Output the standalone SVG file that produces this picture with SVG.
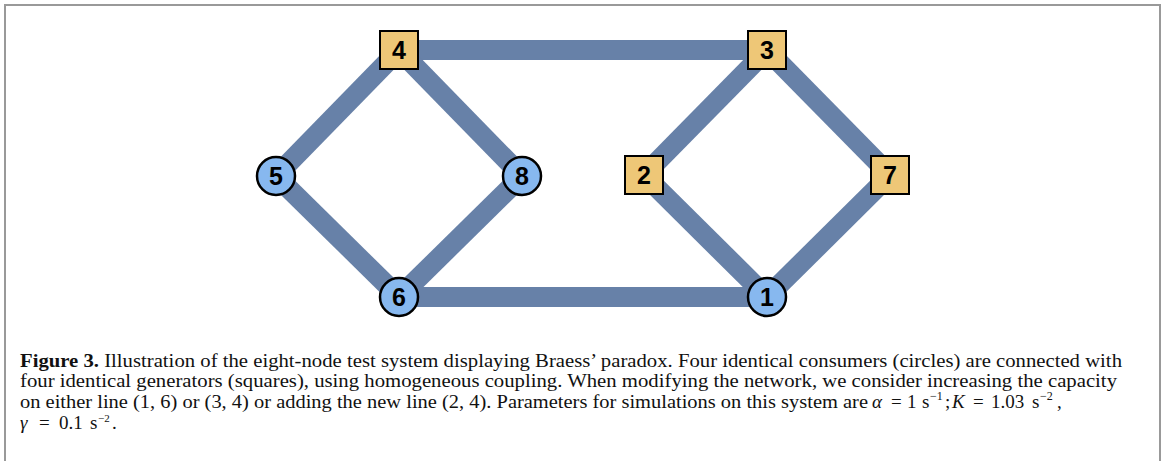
<svg xmlns="http://www.w3.org/2000/svg" width="1166" height="461" viewBox="0 0 1166 461">
<style>
.edge{stroke:#6781a8;stroke-width:20;fill:none;stroke-linecap:butt}
.sq{fill:#eec777;stroke:#000;stroke-width:2}
.ci{fill:#87b8ef;stroke:#000;stroke-width:2.5}
.lbl{font-family:"Liberation Sans",Arial,sans-serif;font-weight:bold;font-size:25px;fill:#000;text-anchor:middle}
.cap{font-family:"Liberation Serif","Times New Roman",serif;font-size:19px;fill:#111}
.b{font-weight:bold}
.i{font-style:italic}
.sup{font-size:12px}
.sup2{font-size:11px}
</style>
<rect x="0" y="0" width="1166" height="461" fill="#fff"/>
<rect x="5" y="5" width="1155" height="470" fill="none" stroke="#999" stroke-width="2"/>
<g id="connectors">
<line class="edge" x1="399" y1="50" x2="767" y2="50"/>
<line class="edge" x1="399" y1="50" x2="276" y2="176"/>
<line class="edge" x1="399" y1="50" x2="522" y2="176"/>
<line class="edge" x1="276" y1="176" x2="399" y2="297"/>
<line class="edge" x1="522" y1="176" x2="399" y2="297"/>
<line class="edge" x1="399" y1="297" x2="767" y2="297"/>
<line class="edge" x1="767" y1="50" x2="644" y2="175"/>
<line class="edge" x1="767" y1="50" x2="890" y2="175"/>
<line class="edge" x1="644" y1="175" x2="767" y2="297"/>
<line class="edge" x1="890" y1="175" x2="767" y2="297"/>
</g>
<g id="node4"><rect class="sq" x="380" y="31" width="38" height="38"/><text class="lbl" x="399" y="59">4</text></g>
<g id="node3"><rect class="sq" x="748" y="31" width="38" height="38"/><text class="lbl" x="767" y="59">3</text></g>
<g id="node2"><rect class="sq" x="625" y="156" width="38" height="38"/><text class="lbl" x="644" y="184">2</text></g>
<g id="node7"><rect class="sq" x="871" y="156" width="38" height="38"/><text class="lbl" x="890" y="184">7</text></g>
<g id="node5"><circle class="ci" cx="276" cy="176" r="19"/><text class="lbl" x="276" y="185">5</text></g>
<g id="node8"><circle class="ci" cx="522" cy="176" r="19"/><text class="lbl" x="522" y="185">8</text></g>
<g id="node6"><circle class="ci" cx="399" cy="297" r="19"/><text class="lbl" x="399" y="306">6</text></g>
<g id="node1"><circle class="ci" cx="767" cy="297" r="19"/><text class="lbl" x="767" y="306">1</text></g>
<g id="caption">
<text class="cap" x="20" y="367" textLength="1102" lengthAdjust="spacingAndGlyphs"><tspan class="b">Figure 3.</tspan> Illustration of the eight-node test system displaying Braess’ paradox. Four identical consumers (circles) are connected with</text>
<text class="cap" x="20" y="387" textLength="1097" lengthAdjust="spacingAndGlyphs">four identical generators (squares), using homogeneous coupling. When modifying the network, we consider increasing the capacity</text>
<text class="cap" x="20" y="408" textLength="848" lengthAdjust="spacingAndGlyphs">on either line (1, 6) or (3, 4) or adding the new line (2, 4). Parameters for simulations on this system are</text>
<text class="cap" y="408"><tspan class="i" x="872">α</tspan><tspan x="891">=</tspan><tspan x="907">1</tspan><tspan x="922">s</tspan><tspan class="sup" x="930" y="400">−1</tspan><tspan x="945" y="408">;</tspan><tspan class="i" x="952">K</tspan><tspan x="973">=</tspan><tspan x="991">1.03</tspan><tspan x="1032">s</tspan><tspan class="sup" x="1040" y="400">−2</tspan><tspan x="1057" y="408">,</tspan></text>
<text class="cap" y="429"><tspan class="i" x="20">γ</tspan><tspan x="39">=</tspan><tspan x="59">0.1</tspan><tspan x="90">s</tspan><tspan class="sup2" x="98" y="422">−2</tspan><tspan x="112" y="429">.</tspan></text>
</g>
</svg>
